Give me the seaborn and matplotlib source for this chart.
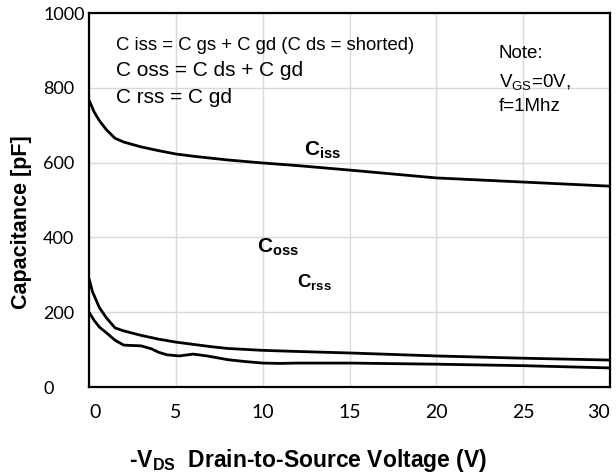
import numpy as np
import matplotlib
matplotlib.use("Agg")
import matplotlib.pyplot as plt
import pandas as pd
import seaborn as sns

# =========================
# DATA
# =========================
v_iss = [0, 0.3, 0.6, 1, 1.5, 2, 3, 4, 5, 6, 7, 8, 10, 12, 15, 20, 25, 30]
c_iss = [767, 735, 712, 688, 665, 655, 642, 632, 623, 617, 612, 607, 599, 592, 580, 559, 548, 537]

v_oss = [0, 0.2, 0.6, 1, 1.5, 2, 3, 4, 5, 6, 7, 8, 10, 12, 15, 20, 25, 30]
c_oss = [290, 255, 212, 185, 158, 150, 138, 128, 120, 114, 108, 103, 98, 95, 91, 83, 77, 72]

v_rss = [0, 0.3, 0.6, 1, 1.5, 2, 2.5, 3, 3.6, 4, 4.5, 5.2, 6, 6.8, 8, 9, 10, 11, 12, 15, 20, 25, 30]
c_rss = [200, 178, 160, 145, 125, 112, 111, 110, 102, 93, 86, 83, 88, 83, 73, 68, 64, 63, 64, 64, 61, 57, 51]

xticks = [0, 5, 10, 15, 20, 25, 30]
yticks = [0, 200, 400, 600, 800, 1000]

df = pd.concat([
    pd.DataFrame({'vds': v_iss, 'cap': c_iss, 'curve': 'Ciss'}),
    pd.DataFrame({'vds': v_oss, 'cap': c_oss, 'curve': 'Coss'}),
    pd.DataFrame({'vds': v_rss, 'cap': c_rss, 'curve': 'Crss'}),
])

# =========================
# PLOTTING SETUP
# =========================
sns.set_style('whitegrid')
plt.rcParams['font.family'] = ['Liberation Sans', 'DejaVu Sans']
plt.rcParams['mathtext.fontset'] = 'custom'
plt.rcParams['mathtext.rm'] = 'Liberation Sans'
plt.rcParams['mathtext.it'] = 'Liberation Sans'
plt.rcParams['mathtext.bf'] = 'Liberation Sans:bold'
for k in ['text.color', 'axes.labelcolor', 'xtick.color', 'ytick.color']:
    plt.rcParams[k] = 'black'

fig = plt.figure(figsize=(6.16, 4.73), dpi=100)
ax = fig.add_axes([89 / 616, 1 - 387 / 473, (610 - 89) / 616, (387 - 13) / 473])

sns.lineplot(data=df, x='vds', y='cap', units='curve', estimator=None,
             color='black', linewidth=2, ax=ax, sort=False)

# =========================
# FORMATTING
# =========================
ax.set_xlim(0, 30)
ax.set_ylim(0, 1000)
ax.set_xticks(xticks)
ax.set_yticks(yticks)
ax.set_xticklabels([str(t) for t in xticks], family='Lato', fontsize=14)
ax.set_yticklabels([str(t) for t in yticks], family='Lato', fontsize=13, ha='left')
# end labels sit inside the frame in the original
xl = ax.get_xticklabels()
xl[0].set_ha('left')
xl[-1].set_ha('right')
ax.tick_params(axis='x', pad=12, length=0)
ax.tick_params(axis='y', pad=33, length=0)
ax.grid(color='#d9d9d9', linewidth=1)
for s in ax.spines.values():
    s.set_color('black')
    s.set_linewidth(1.6)

ax.set_xlabel(r'-V$_{\mathbf{DS}}$  Drain-to-Source Voltage (V)', fontsize=16.5, fontweight='bold')
ax.xaxis.set_label_coords(0.42, -0.16)
ax.set_ylabel('Capacitance [pF]', fontsize=15.5, fontweight='bold')
ax.yaxis.set_label_coords(-0.11, 0.44)

# =========================
# ANNOTATIONS
# =========================
ax.text(1.55, 914, 'C iss = C gs + C gd (C ds = shorted)', fontsize=13.3, va='center')
ax.text(1.55, 845, 'C oss = C ds + C gd', fontsize=15, va='center')
ax.text(1.55, 773, 'C rss = C gd', fontsize=15, va='center')

ax.text(23.6, 893, 'Note:', fontsize=13.5, va='center')
ax.text(23.6, 816, r'V$_{\mathrm{GS}}$=0V,', fontsize=13.5, va='center')
ax.text(23.6, 751, 'f=1Mhz', fontsize=13.5, va='center')

ax.text(12.4, 634, r'$\mathbf{C_{iss}}$', fontsize=15, va='center')
ax.text(9.67, 374, r'$\mathbf{C_{oss}}$', fontsize=15, va='center')
ax.text(11.97, 281, r'$\mathbf{C_{rss}}$', fontsize=13.5, va='center')

fig.savefig('out.png', dpi=100)
